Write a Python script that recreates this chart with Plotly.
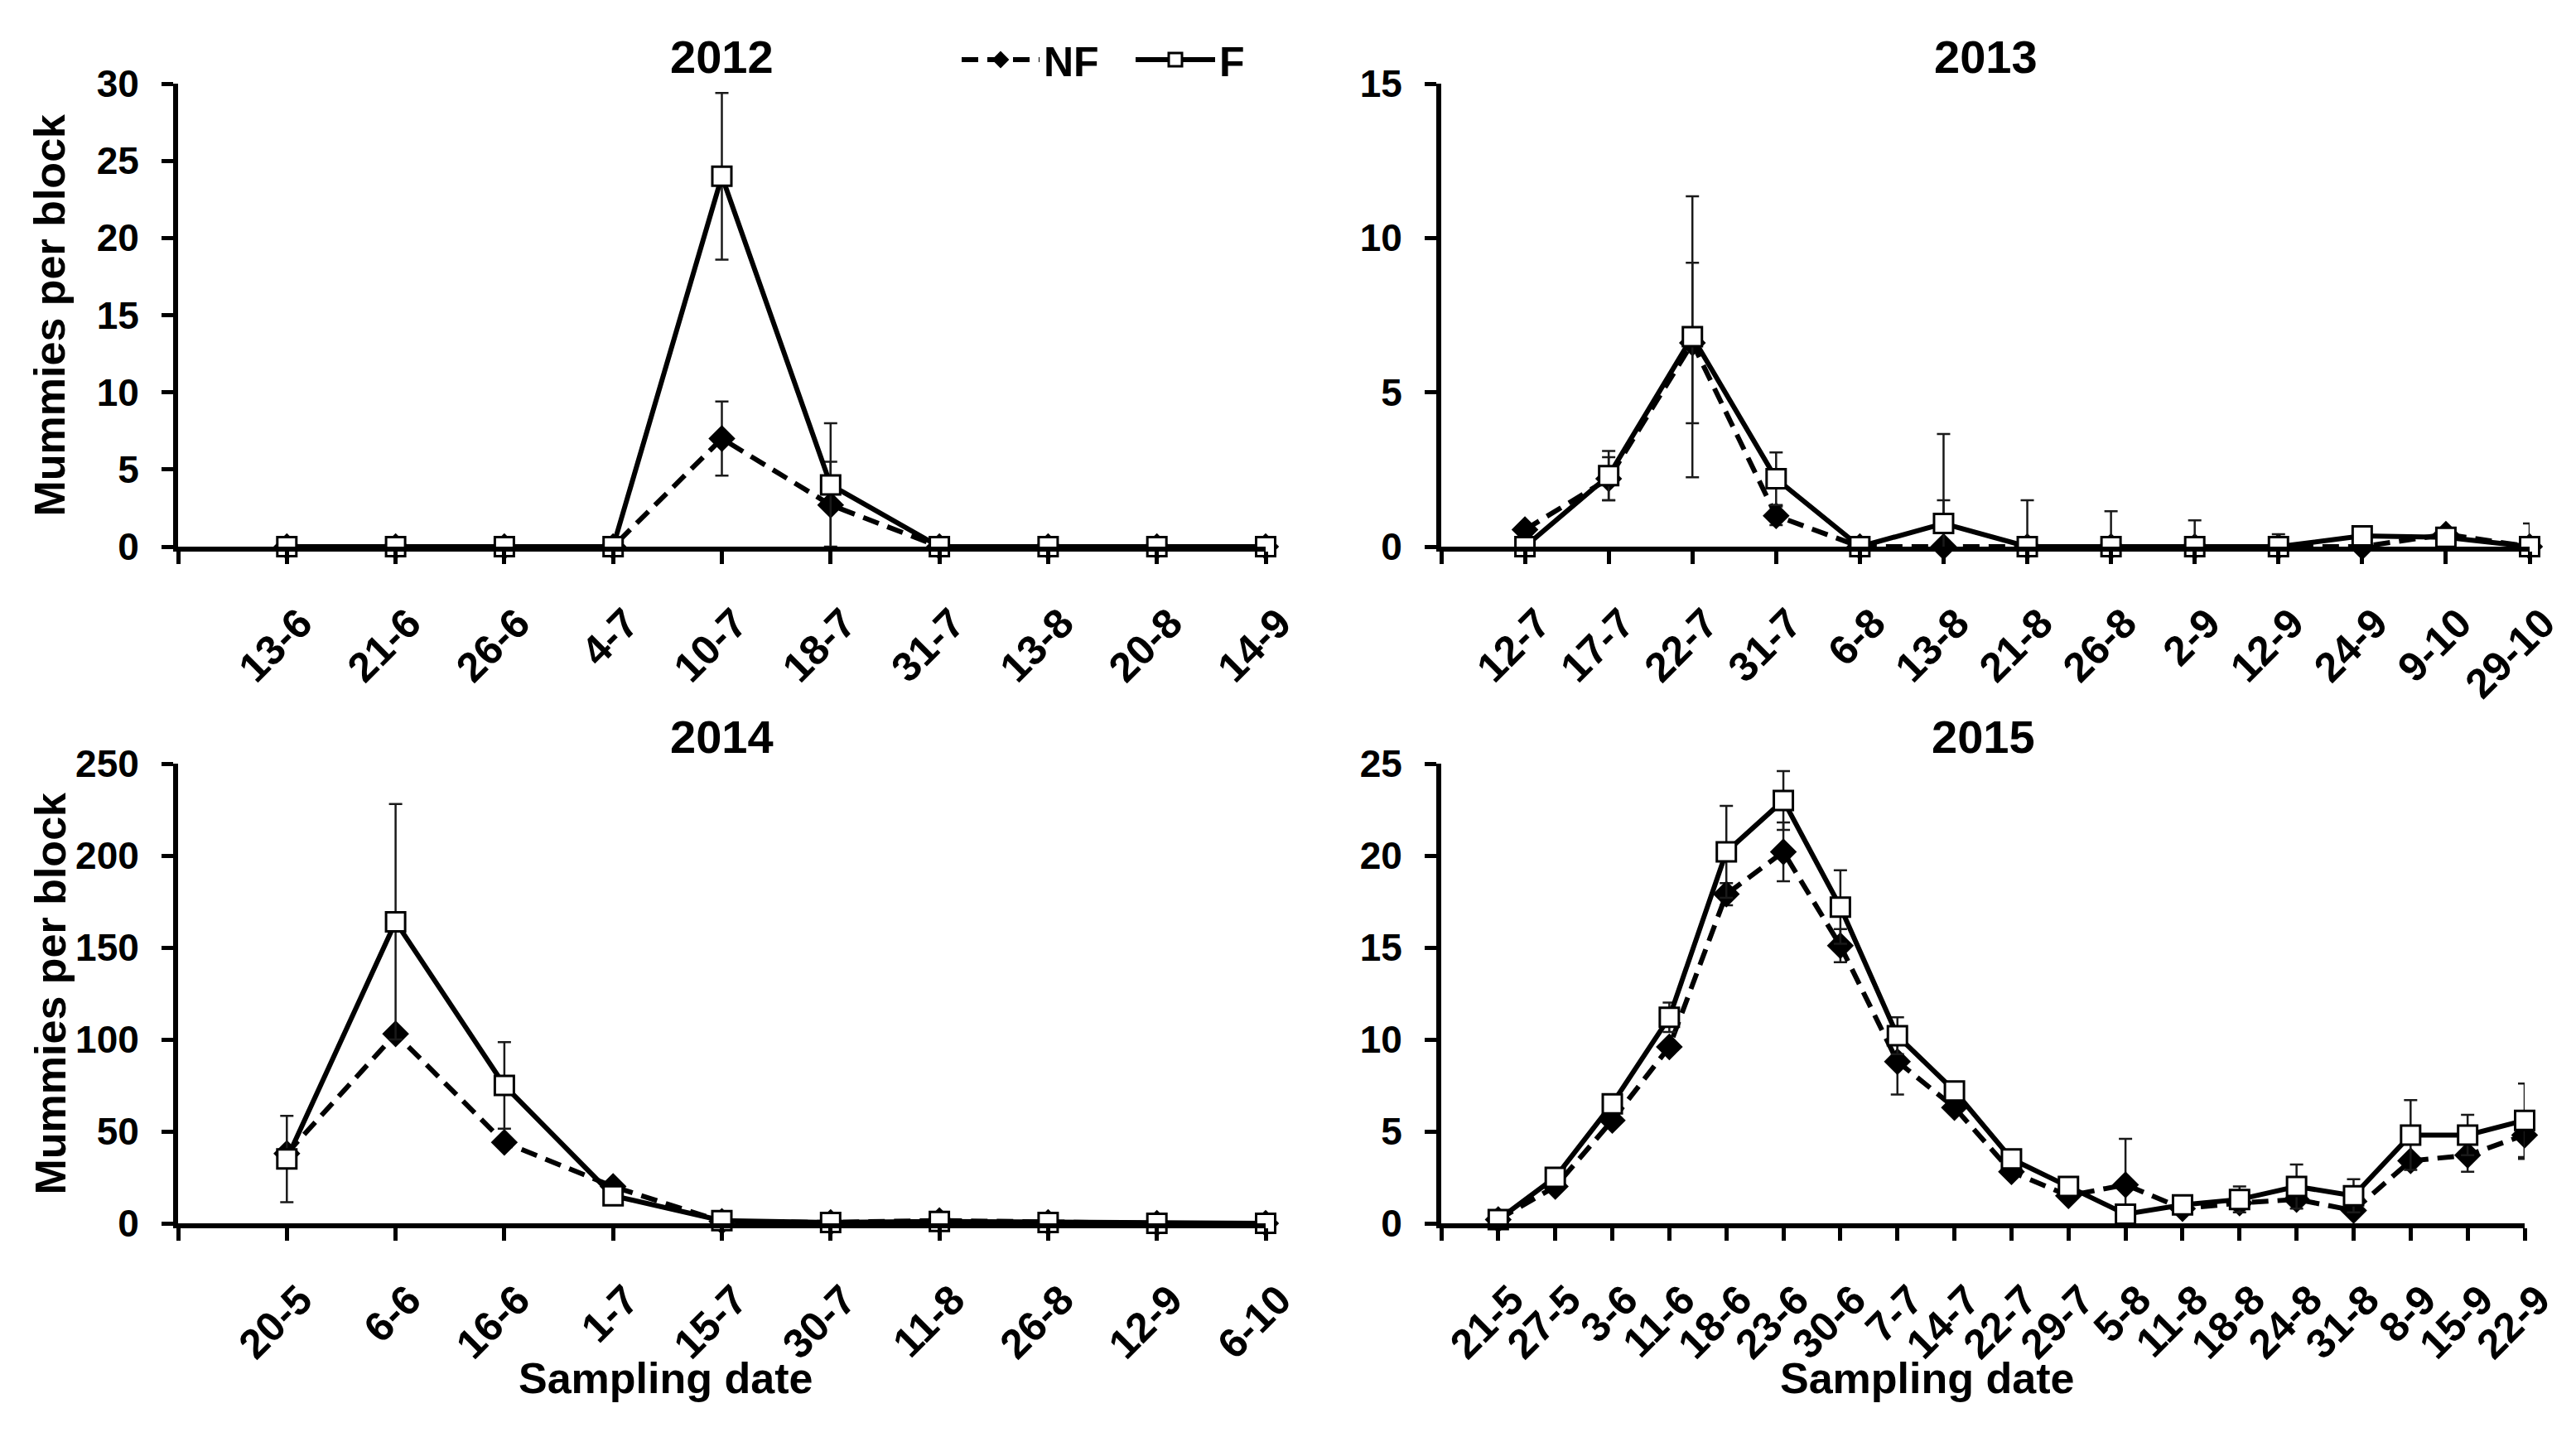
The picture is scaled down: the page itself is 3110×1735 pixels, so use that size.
import plotly.graph_objects as go

# screen size and page offset (default body margin of the html page)
SW, SH = 3110, 1735
OFF = 8
W, H = SW - OFF, SH - OFF

# ---------------- data ----------------
dates_2012 = ["13-6", "21-6", "26-6", "4-7", "10-7", "18-7", "31-7", "13-8", "20-8", "14-9"]
nf_2012 = [0, 0, 0, 0, 7.0, 2.7, 0, 0, 0, 0]
nf_2012_err = [0, 0, 0, 0, 2.4, 2.8, 0, 0, 0, 0]
f_2012 = [0, 0, 0, 0, 24.0, 4.0, 0, 0, 0, 0]
f_2012_err = [0, 0, 0, 0, 5.4, 4.0, 0, 0, 0, 0]

dates_2013 = ["12-7", "17-7", "22-7", "31-7", "6-8", "13-8", "21-8", "26-8", "2-9", "12-9", "24-9", "9-10", "29-10"]
nf_2013 = [0.55, 2.2, 6.6, 1.0, 0, 0, 0, 0, 0, 0, 0, 0.4, 0]
nf_2013_err = [0, 0.7, 2.6, 0.3, 0, 1.5, 0, 0, 0, 0, 0, 0, 0]
f_2013 = [0, 2.3, 6.8, 2.2, 0, 0.75, 0, 0, 0, 0, 0.35, 0.3, 0]
f_2013_err = [0, 0.8, 4.55, 0.85, 0, 2.9, 1.5, 1.15, 0.85, 0.4, 0, 0, 0.75]

dates_2014 = ["20-5", "6-6", "16-6", "1-7", "15-7", "30-7", "11-8", "26-8", "12-9", "6-10"]
nf_2014 = [38, 103, 44, 20, 1, 0.5, 1.5, 0.5, 0, 0]
nf_2014_err = [0, 0, 0, 0, 0, 0, 0, 0, 0, 0]
f_2014 = [35, 164, 75, 15, 1.5, 0.5, 1, 0.5, 0, 0]
f_2014_err = [23.5, 64, 23.5, 0, 0, 0, 0, 0, 0, 0]

dates_2015 = ["21-5", "27-5", "3-6", "11-6", "18-6", "23-6", "30-6", "7-7", "14-7", "22-7",
              "29-7", "5-8", "11-8", "18-8", "24-8", "31-8", "8-9", "15-9", "22-9"]
nf_2015 = [0.2, 2.0, 5.6, 9.6, 17.9, 20.2, 15.1, 8.8, 6.3, 2.8, 1.5, 2.1, 0.8, 1.1, 1.3, 0.7, 3.4, 3.7, 4.8]
nf_2015_err = [0, 0, 0, 0, 0.6, 1.6, 0.9, 1.8, 0, 0, 0, 2.5, 0, 0, 0, 0, 0, 0.9, 1.3]
f_2015 = [0.2, 2.5, 6.5, 11.2, 20.2, 23.0, 17.2, 10.2, 7.2, 3.5, 2.0, 0.5, 1.0, 1.3, 2.0, 1.5, 4.8, 4.8, 5.6]
f_2015_err = [0.3, 0, 0, 0.8, 2.5, 1.6, 2.0, 1.0, 0, 0.4, 0, 0, 0, 0.7, 1.2, 0.9, 1.9, 1.1, 2.0]

years = ["2012", "2013", "2014", "2015"]
y_max = [30, 15, 250, 25]
y_step = [5, 5, 50, 5]
y_title = "Mummies per block"
x_title = "Sampling date"

panels = [
    (dates_2012, nf_2012, nf_2012_err, f_2012, f_2012_err),
    (dates_2013, nf_2013, nf_2013_err, f_2013, f_2013_err),
    (dates_2014, nf_2014, nf_2014_err, f_2014, f_2014_err),
    (dates_2015, nf_2015, nf_2015_err, f_2015, f_2015_err),
]

# ---------------- layout geometry (screen px) ----------------
# (x_axis_start, x_last_point, y_top, y_bottom)
geom = [
    (215, 1528, 101, 660),
    (1740, 3054, 101, 660),
    (215, 1528, 922, 1477),
    (1740, 3048, 922, 1477),
]


def px(x):
    return (x - OFF) / W


def py(y):
    return 1 - (y - OFF) / H


FONT = "Liberation Sans, Arial, sans-serif"
YTICKFONT = dict(family=FONT, size=46, color="black", weight="bold")
XTICKFONT = dict(family=FONT, size=50, color="black", weight="bold")

fig = go.Figure()

for k, (dates, nf, nfe, f, fe) in enumerate(panels):
    idx = k + 1
    xs = list(range(len(dates)))
    xa = "x" if idx == 1 else f"x{idx}"
    ya = "y" if idx == 1 else f"y{idx}"
    fig.add_trace(go.Scatter(
        x=xs, y=nf, xaxis=xa, yaxis=ya, name="NF", mode="lines+markers",
        legend="legend", showlegend=(idx == 1), cliponaxis=False,
        line=dict(color="black", width=6, dash="20px,11px"),
        marker=dict(symbol="diamond", size=25, color="black", line=dict(color="black", width=0)),
        error_y=dict(type="data", array=nfe, visible=True, color="#1a1a1a", thickness=2.5, width=8),
    ))
    fig.add_trace(go.Scatter(
        x=xs, y=f, xaxis=xa, yaxis=ya, name="F", mode="lines+markers",
        legend="legend2", showlegend=(idx == 1), cliponaxis=False,
        line=dict(color="black", width=6),
        marker=dict(symbol="square", size=23, color="white", line=dict(color="black", width=3)),
        error_y=dict(type="data", array=fe, visible=True, color="#1a1a1a", thickness=2.5, width=8),
    ))

LEGFONT = dict(family=FONT, size=50, color="black", weight="bold")
layout = dict(
    width=W, height=H,
    margin=dict(l=0, r=0, t=0, b=0, autoexpand=False),
    paper_bgcolor="white", plot_bgcolor="white",
    font=dict(family=FONT, color="black", weight="bold"),
    showlegend=True,
    legend=dict(
        orientation="h", x=px(1156), y=py(72), xanchor="left", yanchor="middle",
        font=LEGFONT, itemwidth=94, bgcolor="rgba(0,0,0,0)",
    ),
    legend2=dict(
        orientation="h", x=px(1366), y=py(72), xanchor="left", yanchor="middle",
        font=LEGFONT, itemwidth=96, bgcolor="rgba(0,0,0,0)",
    ),
)

annotations = []
for k, (dates, *_rest) in enumerate(panels):
    idx = k + 1
    x0, xl, yt, yb = geom[k]
    n = len(dates)
    xkey = "xaxis" if idx == 1 else f"xaxis{idx}"
    ykey = "yaxis" if idx == 1 else f"yaxis{idx}"
    layout[xkey] = dict(
        domain=[px(x0), px(xl)], anchor="y" if idx == 1 else f"y{idx}",
        range=[-1, n - 1], tickmode="array",
        tickvals=list(range(-1, n)), ticktext=[""] + dates,
        tickangle=-45, ticks="outside", ticklen=15, tickwidth=5, tickcolor="black",
        showline=True, linewidth=6, linecolor="black",
        showgrid=False, zeroline=False, tickfont=XTICKFONT,
        ticklabelstandoff=22, ticklabelshift=16,
        fixedrange=True, automargin=False,
    )
    layout[ykey] = dict(
        domain=[py(yb), py(yt)], anchor="x" if idx == 1 else f"x{idx}",
        range=[0, y_max[k]], dtick=y_step[k], tick0=0,
        ticks="outside", ticklen=14, tickwidth=5, tickcolor="black",
        showline=True, linewidth=6, linecolor="black",
        showgrid=False, zeroline=False, tickfont=YTICKFONT, ticklabelstandoff=18,
        fixedrange=True, automargin=False,
    )
    # panel title
    annotations.append(dict(
        text=years[k], x=px((x0 + xl) / 2), y=py(yt - 32),
        xref="paper", yref="paper", xanchor="center", yanchor="middle",
        showarrow=False, font=dict(family=FONT, size=56, color="black", weight="bold"),
    ))
    if k in (0, 2):
        annotations.append(dict(
            text=y_title, x=px(60), y=py((yt + yb) / 2),
            xref="paper", yref="paper", xanchor="center", yanchor="middle",
            textangle=-90, showarrow=False,
            font=dict(family=FONT, size=52, color="black", weight="bold"),
        ))
    if k in (2, 3):
        annotations.append(dict(
            text=x_title, x=px((x0 + xl) / 2 - 68), y=py(1664),
            xref="paper", yref="paper", xanchor="center", yanchor="middle",
            showarrow=False, font=dict(family=FONT, size=52, color="black", weight="bold"),
        ))

layout["annotations"] = annotations
fig.update_layout(**layout)

fig.write_html("out.html")
